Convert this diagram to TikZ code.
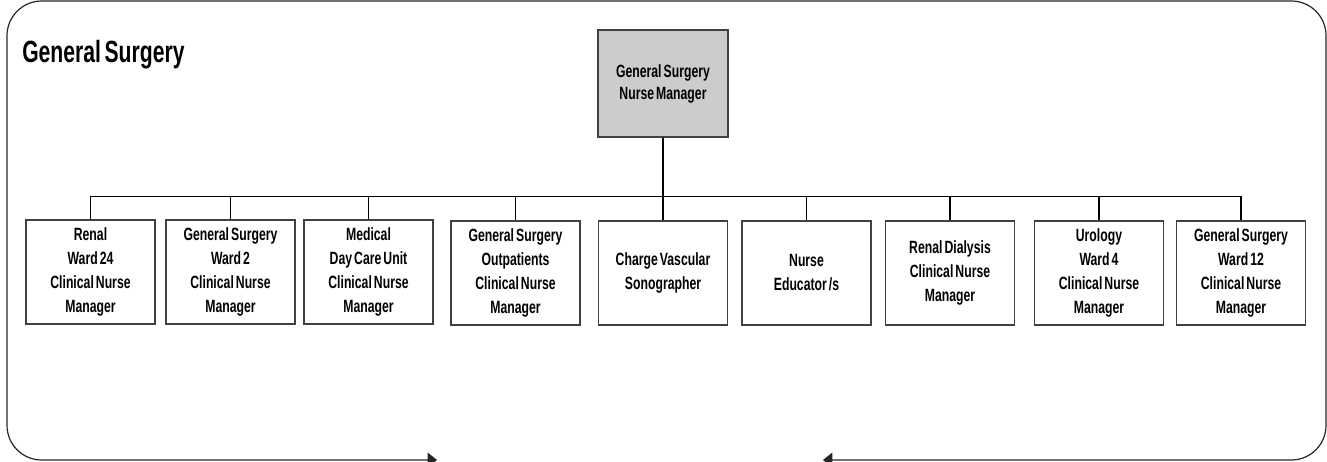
\documentclass[tikz,border=0pt]{standalone}
\usepackage{fontspec}
\setmainfont[FakeStretch=0.69, WordSpace=0.6]{Liberation Sans}
\usetikzlibrary{arrows.meta}

\tikzset{
  unitbox/.style={draw=black!75, line width=1.1pt, fill=white, inner sep=0pt,
    minimum width=96.75pt, minimum height=78pt, align=center,
    font=\fontsize{13.3}{18}\selectfont\bfseries},
  headbox/.style={unitbox, fill=black!20, minimum width=97.5pt, minimum height=80pt,
    font=\fontsize{13.3}{16.5}\selectfont\bfseries},
  tree/.style={draw=black, line width=0.8pt},
  frame/.style={draw=black!85, line width=0.9pt, rounded corners=26pt,
    {Triangle[length=7pt,width=11pt]}-{Triangle[length=7pt,width=11pt]}}
}

\begin{document}
\begin{tikzpicture}[x=0.75pt, y=-0.75pt]
  \useasboundingbox (0,0) rectangle (1327,461);

  % outer rounded frame, open at the bottom with arrowheads at both ends
  \coordinate (fl) at (437,460);
  \coordinate (fr) at (823,460);
  \draw[frame] (fl) -- (7,460) -- (7,1) -- (1326,1) -- (1326,460) -- (fr);

  % title
  \node[anchor=base west, inner sep=0pt, font=\fontsize{23}{27}\selectfont\bfseries]
    (title) at (22,62) {General Surgery};

  % head of unit
  \node[headbox] (mgr) at (663,83.5) {General Surgery\\Nurse Manager};

  % reporting units
  \node[unitbox] (c1) at (90.5,272)  {Renal\\Ward 24\\Clinical Nurse\\Manager};
  \node[unitbox] (c2) at (230.5,272) {General Surgery\\Ward 2\\Clinical Nurse\\Manager};
  \node[unitbox] (c3) at (368.5,272) {Medical\\Day Care Unit\\Clinical Nurse\\Manager};
  \node[unitbox] (c4) at (515.5,273) {General Surgery\\Outpatients\\Clinical Nurse\\Manager};
  \node[unitbox] (c5) at (663,273)   {Charge Vascular\\Sonographer};
  \node[unitbox] (c6) at (806.5,273) {Nurse\\Educator /s};
  \node[unitbox] (c7) at (950,273)   {Renal Dialysis\\Clinical Nurse\\Manager};
  \node[unitbox] (c8) at (1099,273)  {Urology\\Ward 4\\Clinical Nurse\\Manager};
  \node[unitbox] (c9) at (1241,273)  {General Surgery\\Ward 12\\Clinical Nurse\\Manager};

  % connectors via the horizontal bus
  \foreach \c in {c1,c2,c3,c4,c5,c6,c7,c8,c9}
    \draw[tree] (mgr.south) -- ++(0,59) -| (\c.north);
\end{tikzpicture}
\end{document}
